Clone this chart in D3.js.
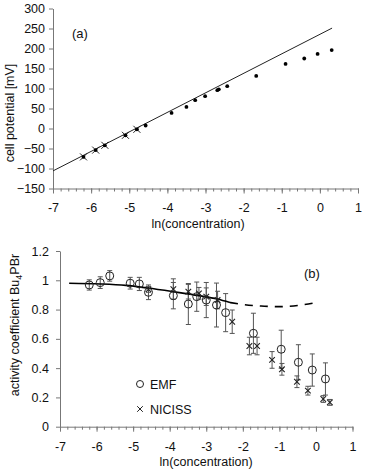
<!DOCTYPE html>
<html>
<head>
<meta charset="utf-8">
<script src="https://cdn.jsdelivr.net/npm/d3@7"></script>
<style>
body { margin: 0; background: #fff; }
svg { display: block; font-family: Arial, "Liberation Sans", sans-serif; }
</style>
</head>
<body>
<div id="chart"></div>
<script>
// panel (a): cell potential vs ln(concentration)
var potLnC = [-6.2, -5.88, -5.64, -5.1, -4.8, -4.57, -3.89, -3.5, -3.27, -3.01, -2.69, -2.65, -2.43, -1.67, -0.9, -0.41, -0.06, 0.31];
var potMV  = [-71, -54, -42, -17, -2, 7.5, 39, 54, 70.7, 80.8, 95.8, 98, 105.8, 131.5, 161.5, 175, 186.5, 196];
var potCrossLnC = [-6.2, -5.88, -5.64, -5.1, -4.8];
var potCrossMV  = [-71, -54, -42, -17, -2];
var nernstLnC = [-7, 0.32];
var nernstMV  = [-106, 251];
var potTicks = [-150, -100, -50, 0, 50, 100, 150, 200, 250, 300];

// panel (b): activity coefficient
var emfLnC = [-6.2, -5.9, -5.64, -5.08, -4.83, -4.58, -3.9, -3.49, -3.26, -3.0, -2.72, -2.47, -1.71, -0.95, -0.48, -0.1, 0.26];
var emfVal = [0.968, 0.984, 1.03, 0.98, 0.975, 0.918, 0.895, 0.838, 0.888, 0.865, 0.831, 0.779, 0.638, 0.529, 0.44, 0.387, 0.326];
var emfErr = [0.035, 0.04, 0.036, 0.04, 0.045, 0.05, 0.09, 0.14, 0.1, 0.12, 0.15, 0.13, 0.137, 0.13, 0.12, 0.11, 0.11];
var nicLnC = [-4.58, -3.9, -3.49, -3.2, -3.0, -2.69, -2.29, -1.82, -1.61, -1.2, -0.93, -0.52, -0.22, 0.2, 0.38];
var nicVal = [0.938, 0.94, 0.922, 0.911, 0.888, 0.865, 0.717, 0.551, 0.551, 0.456, 0.392, 0.307, 0.246, 0.189, 0.166];
var nicErr = [0.02, 0.07, 0.05, 0.04, 0.06, 0.06, 0.08, 0.06, 0.06, 0.057, 0.04, 0.04, 0.03, 0.023, 0.02];
var fitLnC  = [-6.75, -5.9, -5.2, -4.6, -3.9, -3.2, -2.7, -2.35];
var fitVal  = [0.98, 0.975, 0.965, 0.947, 0.922, 0.895, 0.872, 0.848];
var predLnC = [-2.35, -2.0, -1.5, -1.0, -0.5, 0.05];
var predVal = [0.848, 0.835, 0.824, 0.82, 0.828, 0.85];
var actTicks = [0, 0.2, 0.4, 0.6, 0.8, 1, 1.2];

var xMajor = d3.range(-7, 1.001, 1);
var xMinor = d3.range(-7, 1.001, 0.2);

var W = 366, H = 471;
var svg = d3.select("#chart").append("svg")
	.attr("width", W)
	.attr("height", H);

var axisCol = "#777";
var textCol = "#111";

function drawXAxis(g, x, yPos) {
	// minor ticks
	var minor = g.append("g")
		.attr("transform", "translate(0," + yPos + ")")
		.call(d3.axisBottom(x).tickValues(xMinor).tickSize(3).tickFormat(""));
	minor.select(".domain").remove();
	minor.selectAll("line").attr("stroke", axisCol);
	// major ticks + labels
	var major = g.append("g")
		.attr("transform", "translate(0," + yPos + ")")
		.call(d3.axisBottom(x).tickValues(xMajor).tickSize(5).tickSizeOuter(0).tickPadding(10)
			.tickFormat(d3.format("d")));
	major.select(".domain").attr("stroke", axisCol);
	major.selectAll("line").attr("stroke", axisCol);
	major.selectAll("text").attr("fill", textCol).style("font-size", "12.5px")
		.text(function(d) { return String(d); });
}

function drawYAxis(g, y, xPos, ticks, fmt, pad) {
	var ax = g.append("g")
		.attr("transform", "translate(" + xPos + ",0)")
		.call(d3.axisLeft(y).tickValues(ticks).tickSize(4).tickSizeOuter(0).tickPadding(pad).tickFormat(fmt));
	ax.select(".domain").attr("stroke", axisCol);
	ax.selectAll("line").attr("stroke", axisCol);
	ax.selectAll("text").attr("fill", textCol).style("font-size", "12.5px");
}

function crossPath(cx, cy, r) {
	return "M" + (cx - r) + "," + (cy - r) + "L" + (cx + r) + "," + (cy + r) +
		"M" + (cx - r) + "," + (cy + r) + "L" + (cx + r) + "," + (cy - r);
}

//
// Panel (a)
//
var xa = d3.scaleLinear().domain([-7, 1]).range([53, 358]);
var ya = d3.scaleLinear().domain([-150, 300]).range([188.5, 8.5]);
var ga = svg.append("g");

drawXAxis(ga, xa, ya(-150));
drawYAxis(ga, ya, xa(-7), potTicks, d3.format("d"), 4);

ga.append("line")
	.attr("x1", xa(nernstLnC[0])).attr("y1", ya(nernstMV[0]))
	.attr("x2", xa(nernstLnC[1])).attr("y2", ya(nernstMV[1]))
	.attr("stroke", "#222").attr("stroke-width", 1);

ga.selectAll(".pc").data(d3.range(potCrossLnC.length)).enter().append("path")
	.attr("d", function(i) { return crossPath(xa(potCrossLnC[i]), ya(potCrossMV[i]), 3.5); })
	.attr("stroke", "#222").attr("stroke-width", 1).attr("fill", "none");

ga.selectAll(".pd").data(d3.range(potLnC.length)).enter().append("circle")
	.attr("cx", function(i) { return xa(potLnC[i]); })
	.attr("cy", function(i) { return ya(potMV[i]); })
	.attr("r", 1.9)
	.attr("fill", "#000");

ga.append("text").attr("x", 72).attr("y", 38).attr("fill", textCol)
	.style("font-size", "13px").text("(a)");

ga.append("text").attr("x", 198).attr("y", 228).attr("text-anchor", "middle")
	.attr("fill", textCol).style("font-size", "12.5px").text("ln(concentration)");

ga.append("text").attr("transform", "translate(14,113) rotate(-90)")
	.attr("text-anchor", "middle").attr("fill", textCol)
	.style("font-size", "12.5px").text("cell potential [mV]");

//
// Panel (b)
//
var xb = d3.scaleLinear().domain([-7, 1]).range([60, 352.5]);
var yb = d3.scaleLinear().domain([0, 1.2]).range([426.7, 251]);
var gb = svg.append("g");

drawXAxis(gb, xb, yb(0));
drawYAxis(gb, yb, xb(-7), actTicks, function(d) { return d3.format("")(d); }, 7);

var fitPts = fitLnC.map(function(v, i) { return [xb(v), yb(fitVal[i])]; });
var predPts = predLnC.map(function(v, i) { return [xb(v), yb(predVal[i])]; });
var curve = d3.line().curve(d3.curveMonotoneX);

// error bars
function errBars(lnc, val, err, col) {
	var eb = gb.append("g").attr("stroke", col).attr("stroke-width", 1).attr("fill", "none");
	eb.selectAll("path").data(d3.range(lnc.length)).enter().append("path")
		.attr("d", function(i) {
			var cx = xb(lnc[i]), t = yb(val[i] + err[i]), b = yb(val[i] - err[i]);
			return "M" + cx + "," + t + "L" + cx + "," + b +
				"M" + (cx - 2.5) + "," + t + "L" + (cx + 2.5) + "," + t +
				"M" + (cx - 2.5) + "," + b + "L" + (cx + 2.5) + "," + b;
		});
}
errBars(emfLnC, emfVal, emfErr, "#555");
errBars(nicLnC, nicVal, nicErr, "#555");

gb.append("path").attr("d", curve(fitPts))
	.attr("fill", "none").attr("stroke", "#000").attr("stroke-width", 1.6);
gb.append("path").attr("d", curve(predPts))
	.attr("fill", "none").attr("stroke", "#000").attr("stroke-width", 1.6)
	.attr("stroke-dasharray", "8,7");

gb.selectAll(".emf").data(d3.range(emfLnC.length)).enter().append("circle")
	.attr("cx", function(i) { return xb(emfLnC[i]); })
	.attr("cy", function(i) { return yb(emfVal[i]); })
	.attr("r", 4)
	.attr("fill", "none").attr("stroke", "#222").attr("stroke-width", 1);

gb.selectAll(".nic").data(d3.range(nicLnC.length)).enter().append("path")
	.attr("d", function(i) { return crossPath(xb(nicLnC[i]), yb(nicVal[i]), 2.8); })
	.attr("stroke", "#222").attr("stroke-width", 1.1).attr("fill", "none");

// legend
gb.append("circle").attr("cx", 140).attr("cy", 384).attr("r", 3.5)
	.attr("fill", "none").attr("stroke", "#222");
gb.append("text").attr("x", 150).attr("y", 388.5).attr("fill", textCol)
	.style("font-size", "12.5px").text("EMF");
gb.append("path").attr("d", crossPath(140, 409, 2.8))
	.attr("stroke", "#222").attr("fill", "none");
gb.append("text").attr("x", 150).attr("y", 413.5).attr("fill", textCol)
	.style("font-size", "12.5px").text("NICISS");

gb.append("text").attr("x", 304).attr("y", 277.5).attr("fill", textCol)
	.style("font-size", "13px").text("(b)");

gb.append("text").attr("x", 206).attr("y", 466).attr("text-anchor", "middle")
	.attr("fill", textCol).style("font-size", "12.5px").text("ln(concentration)");

var yl = gb.append("text").attr("transform", "translate(19,325) rotate(-90)")
	.attr("text-anchor", "middle").attr("fill", textCol)
	.style("font-size", "12.5px");
yl.append("tspan").text("activity coefficient Bu");
yl.append("tspan").attr("dy", 3).style("font-size", "9px").text("4");
yl.append("tspan").attr("dy", -3).text("PBr");
</script>
</body>
</html>
